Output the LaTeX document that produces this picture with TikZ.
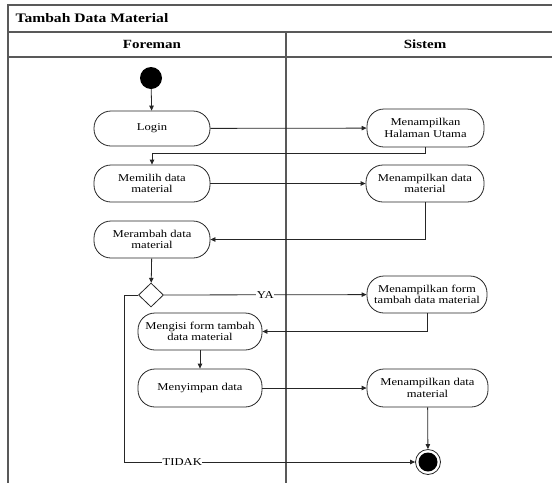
\documentclass[tikz,border=0pt]{standalone}
\usepackage{fontspec}
\setmainfont{Liberation Serif}
\newfontfamily\wfont[FakeStretch=1.2]{Liberation Serif}
\usetikzlibrary{arrows.meta,shapes.geometric}
\tikzset{
  frame/.style={line width=1.3pt, draw=black!65},
  act/.style={draw=black!85, line width=0.8pt, rounded corners=17pt, align=center,
    inner sep=1pt, font=\wfont\fontsize{10.5}{11.5}\selectfont},
  arr/.style={draw=black!85, line width=0.8pt, -{Triangle[length=5pt,width=4.5pt]}},
  lbl/.style={fill=white, inner sep=0.5pt, font=\wfont\fontsize{10.5}{11}\selectfont},
  hdr/.style={font=\wfont\bfseries\fontsize{12.5}{13}\selectfont},
  ttl/.style={font=\wfont\bfseries\fontsize{13}{14}\selectfont}
}
\begin{document}
\begin{tikzpicture}[x=1pt,y=-1pt]
\useasboundingbox (0,0) rectangle (552,483);
% frame
\draw[frame] (552,5) -- (8,5) -- (8,483);
\draw[frame] (8,32) -- (552,32);
\draw[frame] (8,57) -- (552,57);
\draw[frame] (286,32) -- (286,483);
\node[ttl, anchor=west] (title) at (12,18.5) {Tambah Data Material};
\node[hdr] (foreman) at (152,44.5) {Foreman};
\node[hdr] (sistem) at (425,44.5) {Sistem};
% nodes
\node[circle, fill=black, minimum size=22pt, inner sep=0pt] (start) at (151,78) {};
\node[act, minimum width=116pt, minimum height=35pt] (login) at (152,128.5) {Login};
\node[act, minimum width=117pt, minimum height=38pt] (mhu) at (425.5,128) {Menampilkan\\Halaman Utama};
\node[act, minimum width=116pt, minimum height=37pt] (memilih) at (152,183.5) {Memilih data\\material};
\node[act, minimum width=118pt, minimum height=37pt] (mdm1) at (425,183.5) {Menampilkan data\\material};
\node[act, minimum width=116pt, minimum height=37pt] (merambah) at (152,239.5) {Merambah data\\material};
\node[diamond, draw=black!85, line width=0.8pt, minimum width=25pt, minimum height=24pt, inner sep=0pt] (dec) at (151,295) {};
\node[act, minimum width=120pt, minimum height=37pt] (mform) at (427,294.5) {Menampilkan form\\tambah data material};
\node[act, minimum width=124pt, minimum height=37pt] (mengisi) at (200,331.5) {Mengisi form tambah\\data material};
\node[act, minimum width=124pt, minimum height=38pt] (menyimpan) at (200,388) {Menyimpan data};
\node[act, minimum width=121pt, minimum height=38pt] (mdm2) at (427.5,388) {Menampilkan data\\material};
\node[circle, draw=black!85, line width=0.8pt, minimum size=25pt, inner sep=0pt] (end) at (428,462) {};
\node[circle, fill=black, minimum size=19pt, inner sep=0pt] (endin) at (428,462) {};
% connectors
\draw[arr] (start) -- (login);
\draw[arr] (login) -- (mhu);
\draw[arr] (mhu.south) -- ++(0,6) -| (memilih.north);
\draw[arr] (memilih) -- (mdm1);
\draw[arr] (mdm1.south) |- (merambah.east);
\draw[arr] (merambah) -- (dec);
\draw[arr] (dec) -- node[lbl]{YA} (mform);
\draw[arr] (mform.south) |- (mengisi.east);
\draw[arr] (mengisi) -- (menyimpan);
\draw[arr] (menyimpan) -- (mdm2);
\draw[arr] (mdm2) -- (end);
\draw[arr] (dec.west) -- ++(-14,0) |- node[lbl, pos=0.6]{TIDAK} (end.west);
\end{tikzpicture}
\end{document}
